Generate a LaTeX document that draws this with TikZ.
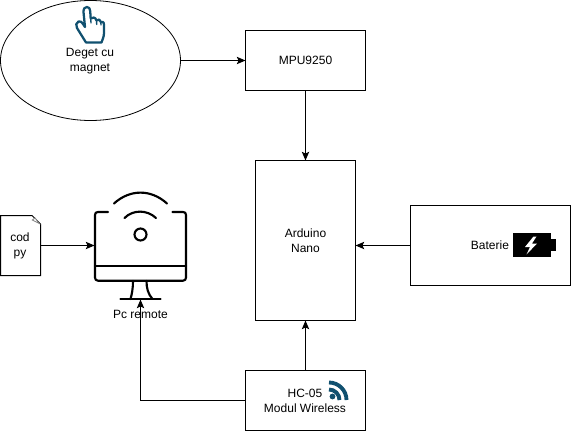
\documentclass[tikz,border=0pt]{standalone}
\usepackage{fontspec}
\setmainfont{Liberation Sans}
\usetikzlibrary{arrows.meta,shapes.geometric}
\definecolor{iconblue}{HTML}{10506F}
\tikzset{
  px/.style={x=0.75pt,y=-0.75pt},
  box/.style={draw=black,line width=0.75pt,fill=white,rectangle,inner sep=0pt,outer sep=0pt,align=center,font=\fontsize{9}{11.25}\selectfont},
  oval/.style={draw=black,line width=0.6pt,fill=white,ellipse,inner sep=0pt,outer sep=0pt},
  lbl/.style={inner sep=0pt,outer sep=0pt,align=center,font=\fontsize{9}{11.25}\selectfont},
  conn/.style={draw=black,line width=0.75pt,-{Stealth[length=6.5pt,width=5.5pt,inset=1.3pt]}},
  mono/.style={draw=black,line width=1.6pt,line cap=round,line join=round},
  handline/.style={draw=iconblue,line width=1.7pt,line join=round,line cap=round},
}
\begin{document}
\begin{tikzpicture}[px]
\useasboundingbox (0,0) rectangle (571,432);
\node[oval,minimum width=135pt,minimum height=90pt] (finger) at (90.5,60.5) {};
\node[lbl] (fingertext) at (90,61) {Deget cu\\magnet};
\node[box,minimum width=90pt,minimum height=45pt] (mpu) at (305.5,60.5) {MPU9250};
\node[box,minimum width=75pt,minimum height=120pt] (ard) at (305.5,240.5) {Arduino\\Nano};
\node[box,minimum width=120pt,minimum height=60pt] (bat) at (490.5,245.5) {};
\node[lbl,anchor=east] (battext) at (509,245.5) {Baterie};
\node[box,minimum width=90pt,minimum height=45pt] (hc) at (305.5,400.5) {};
\node[lbl] (hctext) at (305,400.5) {HC-05\\Modul Wireless};
% hand icon
\draw[handline,fill=white] (86,42.5) -- (77,28) .. controls (75.5,25.5) and (76,22.5) .. (78.5,21.5)
  .. controls (80.5,20.8) and (82,22) .. (83,24) -- (85,27) -- (83.5,12) .. controls (83.3,8.5) and (85,7) .. (86.9,7)
  .. controls (89,7) and (90,8.5) .. (90.2,11) -- (90.7,18.5)
  .. controls (92.5,16.8) and (95.5,17) .. (96.5,20.5)
  .. controls (98.5,18.5) and (100.3,19.5) .. (100.8,22)
  .. controls (102.5,21) and (104,22) .. (104,25) -- (104,33) .. controls (104,37) and (102.5,39) .. (101.5,42.5) -- cycle;
\draw[handline,line width=1pt] (90.7,18.5) -- (91,23) (96.5,20.5) -- (96.7,24.5) (100.8,22) -- (101,25);
% file
\path[draw=black,line width=0.75pt,fill=white] (0.5,215.5) -- (32,215.5) -- (40.5,224) -- (40.5,275.5) -- (0.5,275.5) -- cycle;
\path[draw=gray,line width=0.6pt,fill=white] (32.3,220) -- (35,218) -- (39.3,223.5) -- cycle;
\node[lbl] (filetext) at (20,245.5) {cod\\py};
\coordinate (filee) at (40.5,245.5);
% monitor
\draw[mono] (108,212) -- (98,212) .. controls (96,212) and (95,213) .. (95,215) -- (95,277.5) .. controls (95,279.5) and (96,280.7) .. (98,280.7)
  -- (183,280.7) .. controls (185,280.7) and (186,279.5) .. (186,277.5) -- (186,215) .. controls (186,213) and (185,212) .. (183,212) -- (172.5,212);
\draw[mono] (95,266.3) -- (186,266.3);
\draw[mono] (124.5,218) .. controls (133,209.5) and (147,209.5) .. (156,218);
\draw[mono] (114,203.5) .. controls (130,189) and (151,189) .. (167,203.5);
\draw[mono] (140.5,234.5) circle (6);
\draw[mono] (133,281) .. controls (133,288) and (132,294) .. (130.5,299);
\draw[mono] (146.5,281) .. controls (146.5,288) and (148,294) .. (152.5,299);
\draw[mono] (120.5,299.3) -- (160.5,299.3);
\coordinate (monl) at (94.5,245.5);
\coordinate (monb) at (140.5,299.5);
\node[lbl] (pc) at (140.5,314) {Pc remote};
% wifi icon
\draw[iconblue,line width=2.9pt] (329,382.5) arc[start angle=-90,end angle=0,radius=17.5];
\draw[iconblue,line width=2.9pt] (329,389.5) arc[start angle=-90,end angle=0,radius=10.5];
\fill[iconblue] (332.5,396.5) circle (2.9);
% battery icon
\fill[black] (513,233) rectangle (550.5,257);
\fill[black] (550,239) rectangle (555.5,251);
\fill[white] (533.5,236.5) -- (525,247) -- (530,247) -- (526.5,254.5) -- (537,243.5) -- (532,243.5) -- (536.5,236.5) -- cycle;
% connectors
\draw[conn] (finger.east) -- (mpu.west);
\draw[conn] (mpu.south) -- (ard.north);
\draw[conn] (bat.west) -- (bat.west -| ard.east);
\draw[conn] (hc.north) -- (ard.south);
\draw[conn] (filee) -- (monl);
\draw[conn] (hc.west) -| (monb);
\end{tikzpicture}
\end{document}
